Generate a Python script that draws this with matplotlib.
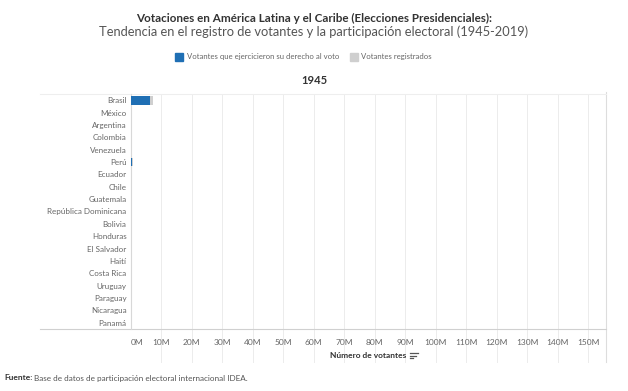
import matplotlib
matplotlib.use("Agg")
import matplotlib.pyplot as plt
from matplotlib.lines import Line2D
from matplotlib.patches import Rectangle

plt.rcParams["font.family"] = ["Lato", "DejaVu Sans"]

# Datos 1945
countries = [
    "Brasil", "México", "Argentina", "Colombia", "Venezuela", "Perú",
    "Ecuador", "Chile", "Guatemala", "República Dominicana", "Bolivia",
    "Honduras", "El Salvador", "Haití", "Costa Rica", "Uruguay",
    "Paraguay", "Nicaragua", "Panamá",
]
registered = [7.46, 0, 0, 0, 0, 0.78, 0, 0, 0, 0, 0, 0, 0, 0, 0, 0, 0, 0, 0]
voted = [6.20, 0, 0, 0, 0, 0.46, 0, 0, 0, 0, 0, 0, 0, 0, 0, 0, 0, 0, 0]
xticks = list(range(0, 151, 10))
year = "1945"

blue = "#1f6fb4"
grey = "#cfcfcf"
txt = "#666666"
dark = "#333333"

fig = plt.figure(figsize=(6.28, 3.91), dpi=100)
ax = fig.add_axes([130.7 / 628, 62 / 391, 475.3 / 628, 235 / 391])

y = list(range(len(countries)))
ax.barh(y, registered, height=0.7, color=grey, zorder=2)
ax.barh(y, voted, height=0.7, color=blue, zorder=3)

ax.set_xlim(0, 155.8)
ax.set_ylim(len(countries) - 0.5, -0.5)
ax.set_yticks(y)
ax.set_yticklabels(countries, fontsize=5.8, color=txt)
ax.set_xticks(xticks)
ax.set_xticklabels([f"{t}M" for t in xticks], fontsize=6.0, color=txt)
ax.tick_params(axis="both", length=0)
ax.tick_params(axis="x", pad=7)
ax.tick_params(axis="y", pad=3)
ax.get_xticklabels()[0].set_horizontalalignment("left")

for s in ax.spines.values():
    s.set_visible(False)
ax.spines["left"].set_visible(True)
ax.spines["left"].set_color("#d8d8d8")
ax.spines["left"].set_linewidth(0.8)

# gridlines extending below the axis
xt = ax.get_xaxis_transform()
for t in xticks[1:]:
    ax.plot([t, t], [-0.14, 1], transform=xt, color="#ececec", lw=0.7,
            clip_on=False, zorder=0)
ax.plot([155.8, 155.8], [-0.14, 1.01], transform=xt, color="#dddddd", lw=0.8,
        clip_on=False, zorder=0)
ax.plot([-0.19, 1], [0, 0], transform=ax.transAxes, color="#d0d0d0", lw=0.8,
        clip_on=False)
ax.plot([-0.19, 1], [1, 1], transform=ax.transAxes, color="#eeeeee", lw=0.8,
        clip_on=False)

fig.text(368 / 628, 1 - 356 / 391, "Número de votantes", ha="center", va="center",
         fontsize=6, color=dark, fontweight="bold")

# sort icon
for i, w in enumerate([8, 6, 3]):
    fig.add_artist(Line2D([410 / 628, (410 + w) / 628],
                          [(391 - 353 - i * 2.5) / 391] * 2,
                          color="#555555", lw=0.9))

# titles
fig.text(0.5, 1 - 18 / 391, "Votaciones en América Latina y el Caribe (Elecciones Presidenciales):",
         ha="center", va="center", fontsize=8.4, color=dark, fontweight="bold")
fig.text(0.5, 1 - 32 / 391, "Tendencia en el registro de votantes y la participación electoral (1945-2019)",
         ha="center", va="center", fontsize=9.3, color="#555555")
fig.text(0.5, 1 - 81 / 391, year, ha="center", va="center", fontsize=8,
         color=dark, fontweight="bold")

# legend
fig.add_artist(Rectangle((175 / 628, 1 - 61 / 391), 8 / 628, 8 / 391,
                         color=blue, transform=fig.transFigure))
fig.text(187 / 628, 1 - 57 / 391, "Votantes que ejercicieron su derecho al voto",
         ha="left", va="center", fontsize=5.6, color=txt)
fig.add_artist(Rectangle((350 / 628, 1 - 61 / 391), 8 / 628, 8 / 391,
                         color=grey, transform=fig.transFigure))
fig.text(361 / 628, 1 - 57 / 391, "Votantes registrados",
         ha="left", va="center", fontsize=5.6, color=txt)

# source
fig.text(4 / 628, 1 - 378 / 391, "Fuente:", ha="left", va="center",
         fontsize=6.0, color=dark, fontweight="bold")
fig.text(34 / 628, 1 - 378 / 391, "Base de datos de participación electoral internacional IDEA.",
         ha="left", va="center", fontsize=5.9, color="#555555")

fig.savefig("out.png", dpi=100)
